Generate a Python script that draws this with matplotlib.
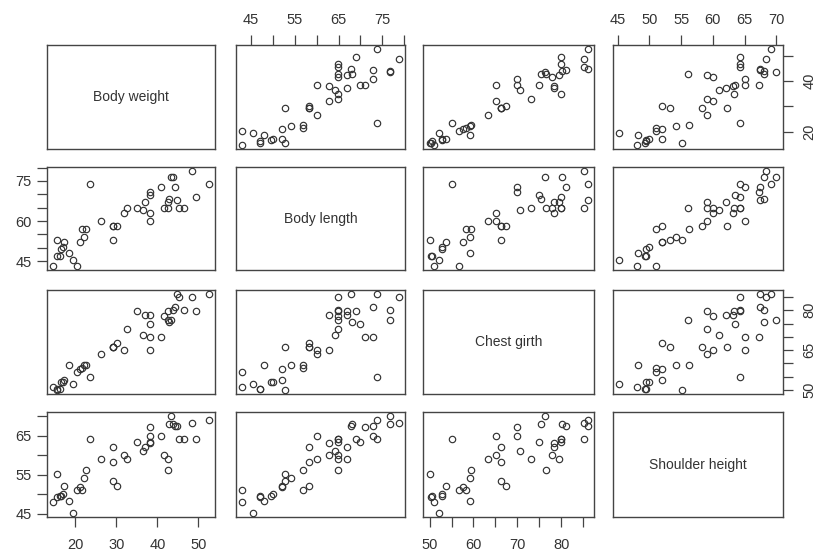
import matplotlib
matplotlib.use("Agg")
import matplotlib.pyplot as plt
import numpy as np

plt.rcParams['font.family'] = ['Liberation Sans', 'DejaVu Sans']

names = ["Body weight", "Body length", "Chest girth", "Shoulder height"]

body_weight = [14.6, 15.6, 15.7, 16.2, 16.6, 17.0, 17.2, 18.6, 19.4, 20.4,
               21.2, 21.6, 22.2, 22.7, 23.5, 26.4, 29.2, 29.2, 29.2, 30.2,
               32.0, 32.7, 35.0, 36.5, 37.1, 38.1, 38.2, 38.2, 38.2, 40.9,
               41.7, 42.5, 42.7, 42.9, 43.4, 43.9, 44.3, 44.7, 45.3, 46.5,
               48.5, 49.5, 52.5]
body_length = [43.1, 47.1, 52.8, 47.1, 49.6, 50.2, 52.1, 48.1, 45.6, 43.1,
               52.1, 57.0, 54.2, 57.0, 73.8, 60.1, 58.2, 58.2, 52.8, 58.2,
               62.9, 64.8, 64.8, 64.2, 67.0, 62.9, 60.1, 69.8, 71.0, 72.8,
               64.8, 67.0, 64.8, 68.1, 76.6, 76.6, 72.8, 67.8, 64.8, 64.8,
               78.7, 68.9, 73.8]
chest_girth = [51.1, 50.2, 50.0, 50.5, 52.9, 52.9, 53.8, 59.3, 52.1, 56.7,
               57.7, 58.4, 59.3, 59.4, 55.0, 63.4, 66.2, 66.2, 66.2, 67.5,
               65.2, 73.0, 79.9, 70.6, 78.4, 78.4, 65.2, 74.9, 70.0, 70.0,
               78.0, 79.6, 76.5, 75.5, 76.2, 80.2, 81.2, 86.1, 85.2, 80.0,
               85.2, 79.9, 86.1]
shoulder_height = [48.0, 49.3, 55.2, 49.4, 49.5, 50.0, 52.0, 48.2, 45.2, 51.1,
                   51.9, 51.1, 54.2, 56.3, 64.2, 59.1, 62.2, 58.2, 53.3, 52.0,
                   60.0, 59.1, 63.3, 61.0, 62.1, 63.2, 65.0, 63.5, 67.2, 65.0,
                   60.0, 59.1, 56.1, 68.1, 70.0, 68.1, 67.4, 67.4, 64.2, 64.2,
                   68.3, 64.2, 69.1]

data = [body_weight, body_length, chest_girth, shoulder_height]

tick_vals = [[20, 30, 40, 50],
             [45, 50, 55, 60, 65, 70, 75, 80],
             [50, 55, 60, 65, 70, 75, 80, 85],
             [45, 50, 55, 60, 65, 70]]
# labels shown on the horizontal (x) axis
x_shown = [[20, 30, 40, 50], [45, 55, 65, 75], [50, 60, 70, 80], [45, 50, 55, 60, 65, 70]]
# labels shown on the vertical (y) axis
y_shown = [[20, 40], [45, 60, 75], [50, 65, 80], [45, 55, 65]]

W, H = 817, 555
fig = plt.figure(figsize=(W / 100, H / 100), dpi=100)

col_x = [(46.7, 215.0), (236.0, 405.0), (423.3, 594.3), (612.7, 782.7)]
row_y = [(45.3, 149.3), (167.3, 270.0), (290.3, 393.7), (412.3, 516.7)]

txt_col = '#333333'
edge_col = '#444444'

def lims(v):
    v = np.asarray(v)
    lo, hi = v.min(), v.max()
    r = hi - lo
    return lo - 0.04 * r, hi + 0.04 * r

for i in range(4):
    for j in range(4):
        x0, x1 = col_x[j]
        yt, yb = row_y[i]
        ax = fig.add_axes([x0 / W, 1 - yb / H, (x1 - x0) / W, (yb - yt) / H])
        for s in ax.spines.values():
            s.set_color(edge_col)
            s.set_linewidth(1.0)
        ax.set_xlim(*lims(data[j]))
        ax.set_ylim(*lims(data[i]))
        ax.tick_params(which='both', top=False, bottom=False, left=False, right=False,
                       labeltop=False, labelbottom=False, labelleft=False, labelright=False,
                       length=7, width=0.9, color=edge_col, labelsize=10.5, labelcolor=txt_col)
        ax.set_xticks(tick_vals[j])
        ax.set_xticklabels([str(t) if t in x_shown[j] else '' for t in tick_vals[j]])
        ax.set_yticks(tick_vals[i])
        ax.set_yticklabels([str(t) if t in y_shown[i] else '' for t in tick_vals[i]])
        if i == j:
            ax.text(0.5, 0.5, names[i], transform=ax.transAxes, ha='center', va='center',
                    fontsize=10, color=txt_col)
        else:
            ax.plot(data[j], data[i], linestyle='none', marker='o', markersize=4.6,
                    markerfacecolor='none', markeredgecolor='#333333', markeredgewidth=0.85)
        if i == 0 and j in (1, 3):
            ax.tick_params(axis='x', top=True, labeltop=True, pad=6)
        if i == 3 and j in (0, 2):
            ax.tick_params(axis='x', bottom=True, labelbottom=True, pad=8)
        if j == 0 and i in (1, 3):
            ax.tick_params(axis='y', left=True, labelleft=True, pad=4)
        if j == 3 and i in (0, 2):
            ax.tick_params(axis='y', right=True, labelright=True, pad=7)
            for lab in ax.get_yticklabels():
                lab.set_rotation(90)
                lab.set_va('center')

fig.savefig("out.png", dpi=100, facecolor='white')
